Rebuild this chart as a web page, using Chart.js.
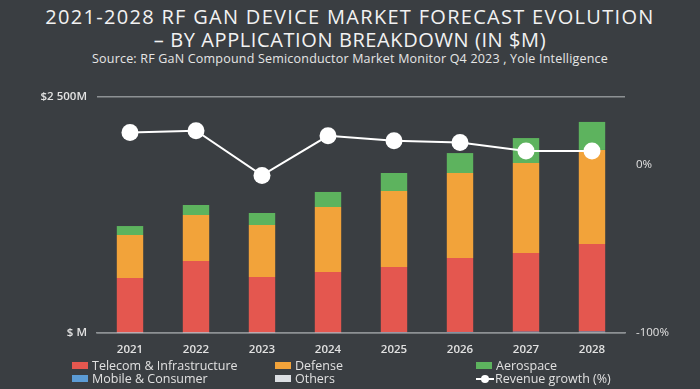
<!DOCTYPE html>
<html>
<head>
<meta charset="utf-8">
<script src="https://cdn.jsdelivr.net/npm/chart.js@4"></script>
<style>
  html, body { margin: 0; padding: 0; }
  body { width: 700px; height: 389px; background: #3a3e42; position: relative; overflow: hidden; font-family: "Open Sans", "DejaVu Sans", sans-serif; }
  #wrap { position: absolute; left: 0; top: 0; width: 700px; height: 389px; }
  .title { position: absolute; left: 0; width: 700px; text-align: center; color: #f2f2f2; font-weight: 500; font-size: 20px; line-height: 24px; white-space: nowrap; }
  #t1 { top: 5px; letter-spacing: 1.3px; }
  #t2 { top: 28px; letter-spacing: 0.6px; }
  #sub { position: absolute; left: 0; top: 50px; width: 700px; text-align: center; color: #e6e6e6; font-size: 12.5px; letter-spacing: 0.2px; white-space: nowrap; }
  #legend { position: absolute; left: 72px; top: 359px; width: 620px; display: grid; grid-template-columns: 203px 201px 200px; row-gap: 0px; color: #e0e0e0; font-size: 12.5px; line-height: 13px; }
  .li { display: flex; align-items: center; white-space: nowrap; }
  .box { width: 16px; height: 7px; margin-right: 4px; display: inline-block; }
  .lm { position: relative; width: 18px; height: 8px; margin-right: 1px; display: inline-block; }
  .lm:before { content: ""; position: absolute; left: 0; right: 0; top: 3px; height: 2px; background: #fff; }
  .lm:after { content: ""; position: absolute; left: 5px; top: 0; width: 8px; height: 8px; border-radius: 50%; background: #fff; }
</style>
</head>
<body>
<div class="title" id="t1">2021-2028 RF GAN DEVICE MARKET FORECAST EVOLUTION</div>
<div class="title" id="t2">– BY APPLICATION BREAKDOWN (IN $M)</div>
<div id="sub">Source: RF GaN Compound Semiconductor Market Monitor Q4 2023 , Yole Intelligence</div>
<div id="wrap"><canvas id="c" width="700" height="389"></canvas></div>
<div id="legend"></div>
<script>
const years = ['2021', '2022', '2023', '2024', '2025', '2026', '2027', '2028'];
const others = [3, 3, 3, 4, 6, 8, 10, 12];
const mobileConsumer = [2, 2, 2, 2, 3, 3, 4, 4];
const telecomInfra = [578, 758, 588, 640, 690, 783, 833, 927];
const defense = [455, 487, 551, 689, 805, 900, 953, 996];
const aerospace = [95, 106, 127, 159, 191, 212, 265, 297];
const revenueGrowth = [19, 20, -6.5, 17, 14, 13, 8, 8];
const leftTicks = [0, 2500];
const leftTickLabels = ['$ M', '$2 500M'];
const rightTicks = [-100, 0];
const rightTickLabels = ['-100%', '0%'];

const C = {
  telecom: '#e4574f',
  defense: '#f2a33a',
  aero: '#5db35e',
  mobile: '#5b9bd5',
  others: '#dcdfe3',
  line: '#ffffff',
  text: '#e2e2e2',
  grid: '#8d9194'
};

const datasets = [
  { type: 'bar', label: 'Others', data: others, backgroundColor: C.others, stack: 's', order: 1 },
  { type: 'bar', label: 'Mobile & Consumer', data: mobileConsumer, backgroundColor: C.mobile, stack: 's', order: 1 },
  { type: 'bar', label: 'Telecom & Infrastructure', data: telecomInfra, backgroundColor: C.telecom, stack: 's', order: 1 },
  { type: 'bar', label: 'Defense', data: defense, backgroundColor: C.defense, stack: 's', order: 1 },
  { type: 'bar', label: 'Aerospace', data: aerospace, backgroundColor: C.aero, stack: 's', order: 1 },
  { type: 'line', label: 'Revenue growth (%)', data: revenueGrowth, yAxisID: 'y2', borderColor: C.line, backgroundColor: C.line,
    borderWidth: 2, pointRadius: 8.5, pointBackgroundColor: '#ffffff', pointBorderWidth: 0, tension: 0, order: 0 }
];

const tickFont = { family: '"Open Sans", sans-serif', size: 11.5, weight: '600' };

const chart = new Chart(document.getElementById('c'), {
  data: { labels: years, datasets: datasets },
  options: {
    responsive: false,
    animation: false,
    layout: { padding: { top: 97, bottom: 31, left: 0, right: 0 } },
    plugins: { legend: { display: false }, title: { display: false }, tooltip: { enabled: false } },
    datasets: { bar: { categoryPercentage: 1, barPercentage: 0.4 } },
    scales: {
      x: {
        stacked: true,
        grid: { display: false, drawTicks: false },
        border: { display: true, color: C.grid, width: 1.5 },
        ticks: { color: C.text, font: tickFont, padding: 10 },
        afterFit: s => { s.height = 25; }
      },
      y: {
        stacked: true,
        position: 'left',
        min: 0, max: 2500,
        afterBuildTicks: s => { s.ticks = leftTicks.map(v => ({ value: v })); },
        grid: { color: C.grid, lineWidth: 1.5, drawTicks: false },
        border: { display: false },
        ticks: { color: C.text, font: tickFont, padding: 10,
          callback: (v) => leftTickLabels[leftTicks.indexOf(v)] },
        afterFit: s => { s.width = 97; }
      },
      y2: {
        position: 'right',
        min: -100, max: 40,
        afterBuildTicks: s => { s.ticks = rightTicks.map(v => ({ value: v })); },
        grid: { display: false, drawTicks: false },
        border: { display: false },
        ticks: { color: C.text, font: { family: '"Open Sans", sans-serif', size: 11.5 }, padding: 11,
          callback: (v) => rightTickLabels[rightTicks.indexOf(v)] },
        afterFit: s => { s.width = 75; }
      }
    }
  }
});

// HTML legend built from the chart's datasets
const legendOrder = ['Telecom & Infrastructure', 'Defense', 'Aerospace', 'Mobile & Consumer', 'Others', 'Revenue growth (%)'];
const lg = document.getElementById('legend');
legendOrder.forEach(name => {
  const ds = chart.data.datasets.find(d => d.label === name);
  const item = document.createElement('div');
  item.className = 'li';
  const mark = document.createElement('span');
  if (ds.type === 'line') { mark.className = 'lm'; }
  else { mark.className = 'box'; mark.style.background = ds.backgroundColor; }
  item.appendChild(mark);
  const t = document.createElement('span');
  t.textContent = ds.label;
  item.appendChild(t);
  lg.appendChild(item);
});
</script>
</body>
</html>
